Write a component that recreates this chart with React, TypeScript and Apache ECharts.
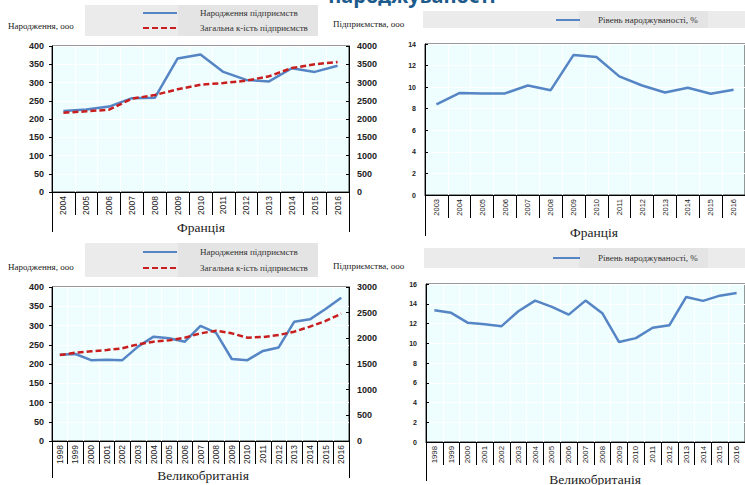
import React, { useEffect, useRef } from 'react';
import * as echarts from 'echarts';

// ---- Data ----
const frYearsA = ['2004', '2005', '2006', '2007', '2008', '2009', '2010', '2011', '2012', '2013', '2014', '2015', '2016'];
const frBirths = [222, 226, 234, 257, 258, 366, 377, 329, 307, 303, 339, 329, 346];
const frTotal = [2172, 2210, 2255, 2556, 2658, 2813, 2940, 2986, 3050, 3170, 3397, 3500, 3562];

const frYearsB = ['2003', '2004', '2005', '2006', '2007', '2008', '2009', '2010', '2011', '2012', '2013', '2014', '2015', '2016'];
const frRate = [8.4, 9.45, 9.42, 9.42, 10.15, 9.72, 12.99, 12.8, 11.0, 10.15, 9.5, 9.94, 9.39, 9.75];

const ukYears = ['1998', '1999', '2000', '2001', '2002', '2003', '2004', '2005', '2006', '2007', '2008', '2009', '2010', '2011', '2012', '2013', '2014', '2015', '2016'];
const ukBirths = [224, 226, 210, 211, 210, 245, 271, 267, 258, 299, 281, 213, 210, 234, 243, 310, 316, 343, 372];
const ukTotal = [1675, 1720, 1747, 1773, 1805, 1883, 1935, 1961, 2013, 2097, 2149, 2097, 2013, 2026, 2065, 2130, 2227, 2338, 2480];
const ukRate = [13.34, 13.08, 12.07, 11.93, 11.73, 13.24, 14.32, 13.68, 12.9, 14.32, 13.04, 10.12, 10.52, 11.57, 11.83, 14.69, 14.29, 14.82, 15.09];

const nameBirths = 'Народження підприємств';
const nameTotal = 'Загальна к-ість підприємств';
const nameRate = 'Рівень народжуваності, %';
const leftAxisName = 'Народження, ооо';
const rightAxisName = 'Підприємства, ооо';
const countryFR = 'Франція';
const countryUK = 'Великобританія';
const topTitle = 'народжуваності';

// ---- Styles ----
const SANS = '"Liberation Sans", Arial, sans-serif';
const SERIF = '"Liberation Serif", "Times New Roman", serif';
const BLUE = '#5585C4';
const RED = '#C81E1E';
const PLOT_BG = '#EEFDFE';

function catAxis(gridIndex: number, data: string[], fontSize: number) {
  return {
    type: 'category',
    gridIndex,
    data,
    boundaryGap: true,
    axisLine: { show: true, lineStyle: { color: '#000', width: 1 } },
    axisTick: { show: true, interval: 0, length: 23, lineStyle: { color: '#000', width: 1 } },
    axisLabel: { interval: 0, rotate: 90, fontSize, fontFamily: SANS, color: '#222', margin: 4 },
    splitLine: { show: true, interval: 0, lineStyle: { color: '#ffffff', width: 1 } },
  };
}

function valAxis(gridIndex: number, max: number, interval: number, position: string, fontSize: number, tickInside: boolean, split: boolean, margin: number) {
  return {
    type: 'value',
    gridIndex,
    position,
    min: 0,
    max,
    interval,
    axisLine: { show: true, lineStyle: { color: '#000', width: 1 } },
    axisTick: { show: true, inside: tickInside, length: 3, lineStyle: { color: '#000' } },
    axisLabel: {
      fontSize,
      fontFamily: SANS,
      fontWeight: 'bold',
      color: '#222',
      margin,
      formatter: (v: number) => String(v),
    },
    splitLine: { show: split, lineStyle: { color: '#ffffff', width: 1 } },
  };
}

function lineSeries(name: string, data: number[], xAxisIndex: number, yAxisIndex: number, color: string, dashed: boolean) {
  return {
    type: 'line',
    name,
    data,
    xAxisIndex,
    yAxisIndex,
    symbol: 'none',
    showSymbol: false,
    smooth: false,
    lineStyle: { color, width: 2.5, type: dashed ? [6, 3] : 'solid' },
    itemStyle: { color },
    z: dashed ? 3 : 2,
  };
}

function legendBlock(data: string[], left: number, top: number, itemWidth: number, gap: number, padLeft: number) {
  return {
    orient: 'vertical',
    left,
    top,
    data,
    itemWidth,
    itemHeight: 12,
    itemGap: gap,
    padding: 0,
    selectedMode: false,
    itemStyle: { opacity: 0, borderWidth: 0 },
    textStyle: { fontFamily: SERIF, fontSize: 9, color: '#333', lineHeight: 12, padding: [0, 0, 0, padLeft] },
  };
}

function vline(x: number, y1: number, y2: number) {
  return { type: 'line', shape: { x1: x, y1, x2: x, y2 }, style: { stroke: '#000', lineWidth: 1 }, silent: true };
}

function gtext(text: string, x: number, y: number, fontSize: number, family: string, align: string, color = '#222', weight = 'normal') {
  return {
    type: 'text',
    x,
    y,
    silent: true,
    style: { text, fontSize, fontFamily: family, fill: color, align, verticalAlign: 'middle', fontWeight: weight },
  };
}

function grect(x: number, y: number, w: number, h: number, fill: string) {
  return { type: 'rect', shape: { x, y, width: w, height: h }, style: { fill }, silent: true, z: -10 };
}

export default function App() {
  const ref = useRef<HTMLDivElement>(null);

  useEffect(() => {
    if (!ref.current) return;
    const chart = echarts.init(ref.current, null, { renderer: 'svg' });

    const option: any = {
      animation: false,
      backgroundColor: '#ffffff',
      grid: [
        { left: 52, top: 46, width: 297, height: 146, show: true, backgroundColor: PLOT_BG, borderColor: '#333', borderWidth: 1 },
        { left: 425, top: 44, width: 331, height: 151, show: true, backgroundColor: PLOT_BG, borderColor: '#333', borderWidth: 1 },
        { left: 52, top: 287, width: 297, height: 154, show: true, backgroundColor: PLOT_BG, borderColor: '#333', borderWidth: 1 },
        { left: 426, top: 284, width: 330, height: 158, show: true, backgroundColor: PLOT_BG, borderColor: '#333', borderWidth: 1 },
      ],
      xAxis: [
        catAxis(0, frYearsA, 8.5),
        catAxis(1, frYearsB, 7.5),
        catAxis(2, ukYears, 8.5),
        catAxis(3, ukYears, 7.8),
      ],
      yAxis: [
        valAxis(0, 400, 50, 'left', 9, false, true, 8),
        valAxis(0, 4000, 500, 'right', 9, true, false, 8),
        valAxis(1, 14, 2, 'left', 7, true, true, 9),
        valAxis(2, 400, 50, 'left', 9, false, true, 8),
        valAxis(2, 3000, 500, 'right', 9, true, false, 8),
        valAxis(3, 16, 2, 'left', 7, true, true, 9),
      ],
      legend: [
        legendBlock([nameBirths, nameTotal], 142, 7, 34, 3, 18),
        legendBlock([nameRate], 555, 14, 24, 3, 13),
        legendBlock([nameBirths, nameTotal], 142, 246, 34, 4, 18),
        legendBlock([nameRate], 552, 252, 27, 3, 13),
      ],
      series: [
        lineSeries(nameBirths, frBirths, 0, 0, BLUE, false),
        lineSeries(nameTotal, frTotal, 0, 1, RED, true),
        lineSeries(nameRate, frRate, 1, 2, BLUE, false),
        lineSeries(nameBirths, ukBirths, 2, 3, BLUE, false),
        lineSeries(nameTotal, ukTotal, 2, 4, RED, true),
        lineSeries(nameRate, ukRate, 3, 5, BLUE, false),
      ],
      graphic: [
        // legend backgrounds
        grect(85, 5, 233, 31, '#EBEBEB'),
        grect(178, 5, 140, 31, '#E4E4E4'),
        grect(423, 11, 330, 17, '#EBEBEB'),
        grect(579, 11, 129, 17, '#E4E4E4'),
        grect(85, 243, 233, 34, '#EBEBEB'),
        grect(178, 243, 140, 34, '#E4E4E4'),
        grect(424, 248, 330, 20, '#EBEBEB'),
        grect(579, 248, 129, 20, '#E4E4E4'),
        // page title, cut off at the top edge as in the source
        gtext(topTitle, 412, -5, 20, '"Noto Sans", "Open Sans", sans-serif', 'center', '#1B5A8A', 'bold'),
        // axis names
        gtext(leftAxisName, 8, 25.5, 9, SERIF, 'left'),
        gtext(rightAxisName, 333, 23.5, 9, SERIF, 'left'),
        gtext(leftAxisName, 8, 267, 9, SERIF, 'left'),
        gtext(rightAxisName, 333, 266, 9, SERIF, 'left'),
        // country titles
        gtext(countryFR, 201, 227, 13.5, SERIF, 'center'),
        gtext(countryFR, 594, 232, 13.5, SERIF, 'center'),
        gtext(countryUK, 203, 475, 13.5, SERIF, 'center'),
        gtext(countryUK, 595, 479, 13.5, SERIF, 'center'),
        // axis line extensions below plots
        vline(52.5, 192, 232),
        vline(349.5, 192, 232),
        vline(425.5, 195, 236),
        vline(52.5, 441, 478),
        vline(349.5, 441, 478),
        vline(426.5, 442, 481),
      ],
    };

    chart.setOption(option);
    return () => chart.dispose();
  }, []);

  return (
    <div
      ref={ref}
      style={{ position: 'absolute', left: 0, top: 0, width: 745, height: 485, background: '#ffffff' }}
    />
  );
}
